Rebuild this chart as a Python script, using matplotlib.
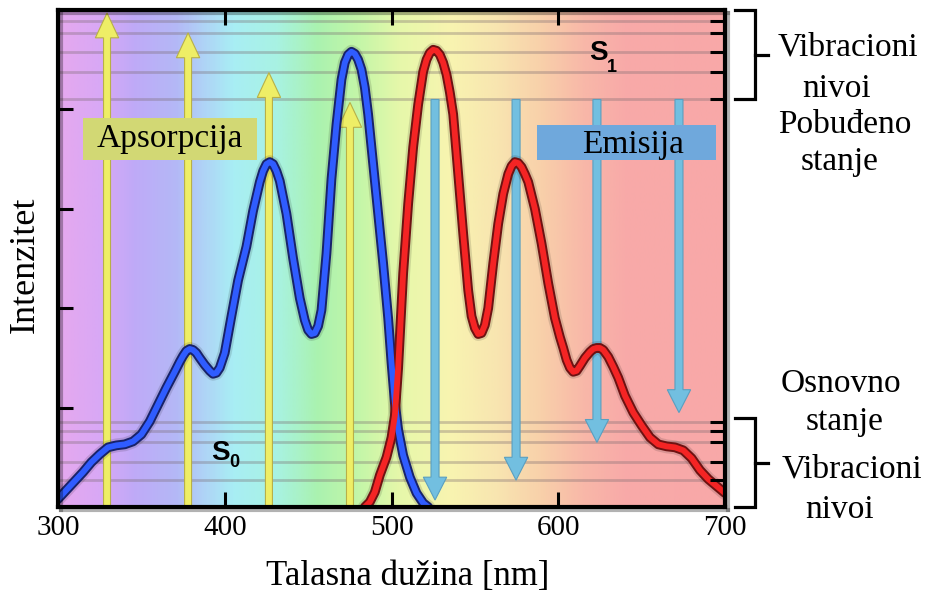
import numpy as np
import matplotlib.pyplot as plt
import matplotlib.patheffects as pe
from matplotlib.colors import LinearSegmentedColormap
from matplotlib.patches import FancyArrow, Rectangle
from matplotlib.transforms import blended_transform_factory

# absorption curve (blue), wavelength [nm] vs intensity
abs_nm = [300, 305, 310, 315, 320, 325, 330, 335, 340, 345, 350, 355, 360, 365, 370,
          373, 375, 377, 379, 381, 383, 385, 388, 391, 393, 395, 397, 400, 404, 408,
          413, 417, 421, 423, 425, 427, 429, 431, 433, 437, 441, 445, 448, 450, 452,
          454, 456, 458, 461, 464, 467, 470, 472, 474, 476, 478, 480, 482, 484, 486,
          489, 492, 495, 498, 500, 502, 504, 507, 511, 515, 519, 522]
abs_int = [0.08, 0.17, 0.26, 0.35, 0.45, 0.53, 0.60, 0.62, 0.63, 0.66, 0.73, 0.86, 1.03, 1.20, 1.36,
           1.46, 1.52, 1.57, 1.59, 1.58, 1.55, 1.50, 1.43, 1.37, 1.34, 1.35, 1.40, 1.55, 1.92, 2.28,
           2.62, 2.98, 3.27, 3.38, 3.45, 3.47, 3.45, 3.38, 3.28, 2.95, 2.50, 2.10, 1.88, 1.78, 1.74,
           1.75, 1.82, 1.98, 2.55, 3.30, 3.85, 4.30, 4.47, 4.55, 4.58, 4.56, 4.50, 4.40, 4.22, 3.95,
           3.45, 2.95, 2.45, 1.90, 1.45, 1.05, 0.78, 0.52, 0.30, 0.14, 0.04, 0.0]

# emission curve (red)
em_nm = [484, 487, 490, 493, 497, 500, 502, 504, 507, 510, 513, 516, 519, 521, 523,
         525, 527, 529, 531, 533, 535, 537, 540, 543, 546, 548, 550, 552, 554, 556,
         558, 561, 564, 567, 570, 572, 574, 576, 578, 580, 582, 586, 590, 594, 598,
         601, 603, 605, 607, 609, 611, 613, 616, 619, 621, 623, 625, 627, 630, 633,
         636, 640, 645, 650, 655, 660, 665, 670, 675, 680, 685, 690, 695, 700]
em_int = [0.0, 0.05, 0.15, 0.32, 0.50, 0.70, 0.92, 1.40, 2.35, 3.05, 3.62, 4.05, 4.38, 4.50, 4.57,
          4.60, 4.59, 4.55, 4.47, 4.35, 4.17, 3.95, 3.35, 2.75, 2.18, 1.92, 1.80, 1.74, 1.75, 1.83,
          2.00, 2.45, 2.85, 3.15, 3.35, 3.43, 3.47, 3.46, 3.42, 3.35, 3.27, 3.00, 2.65, 2.25, 1.90,
          1.71, 1.60, 1.48, 1.40, 1.36, 1.37, 1.42, 1.50, 1.56, 1.59, 1.60, 1.60, 1.58, 1.51, 1.41,
          1.30, 1.12, 0.95, 0.82, 0.70, 0.63, 0.61, 0.60, 0.57, 0.49, 0.37, 0.28, 0.21, 0.14]

# vibrational levels
s1_levels = [4.89, 4.77, 4.58, 4.38, 4.10]
s0_levels = [0.86, 0.76, 0.65, 0.45, 0.27]

# transition arrows
abs_arrow_nm = [329.4, 378.0, 426.5, 475.1]
abs_arrow_top = [4.97, 4.77, 4.37, 4.07]
em_arrow_nm = [526.1, 574.7, 623.2, 672.4]
em_arrow_bottom = [0.07, 0.27, 0.65, 0.95]
em_arrow_start = 4.10

xticks = [300, 400, 500, 600, 700]
yticks = [1, 2, 3, 4]

# background spectrum colours
bg_nm = [300, 325, 345, 370, 390, 405, 430, 455, 480, 505, 535, 565, 590, 615, 640, 700]
bg_colors = ['#e6a8ee', '#d8a8f6', '#bfaaf8', '#b4b8f6', '#aed8f6', '#a8eef4', '#a8f2e4',
             '#aaf2b0', '#c4f6a8', '#e6f8aa', '#f8f4b0', '#f8e4b0', '#f8d0aa', '#f8b8a8',
             '#f8aaa8', '#f8a8a8']

serif = 'Liberation Serif'
sans = 'Liberation Sans'


def draw_background(ax):
    stops = [((n - 300) / 400, c) for n, c in zip(bg_nm, bg_colors)]
    cmap = LinearSegmentedColormap.from_list('spectrum', stops)
    grad = np.linspace(0, 1, 800)[None, :]
    ax.imshow(grad, cmap=cmap, aspect='auto', extent=(300, 700, 0, 5),
              origin='lower', zorder=0, interpolation='bilinear')


def draw_levels(ax):
    for lv in s1_levels + s0_levels:
        ax.axhline(lv, color='#7a6a70', lw=2.0, alpha=0.35, zorder=1)


def draw_arrows(ax):
    for x, top in zip(abs_arrow_nm, abs_arrow_top):
        ax.add_patch(FancyArrow(x, 0, 0, top, width=4.2, head_width=14,
                                head_length=0.25, length_includes_head=True,
                                facecolor='#eeee66', edgecolor='#b8b048', lw=0.8, zorder=2))
    for x, bot in zip(em_arrow_nm, em_arrow_bottom):
        ax.add_patch(FancyArrow(x, em_arrow_start, 0, bot - em_arrow_start, width=4.8,
                                head_width=14, head_length=0.23, length_includes_head=True,
                                facecolor='#72bfe0', edgecolor='#5a9fc0', lw=0.8, zorder=2))


def draw_curve(ax, x, y, edge, core):
    kw = dict(solid_joinstyle='round', solid_capstyle='round')
    ax.plot(x, y, color='k', lw=10, alpha=0.12, zorder=3, **kw)
    ax.plot(x, y, color=edge, lw=7, zorder=4, **kw)
    ax.plot(x, y, color=core, lw=4.2, zorder=5, **kw)


def draw_labels(ax, fig):
    # boxes
    ax.add_patch(Rectangle((0.0375, 0.698), 0.261, 0.0845, transform=ax.transAxes,
                           facecolor='#d2d874', edgecolor='none', zorder=6))
    ax.text(0.168, 0.724, 'Apsorpcija', transform=ax.transAxes, ha='center', va='baseline',
            fontsize=24, family=serif, zorder=7)
    ax.add_patch(Rectangle((0.718, 0.698), 0.268, 0.0704, transform=ax.transAxes,
                           facecolor='#6fa8dc', edgecolor='none', zorder=6))
    ax.text(0.862, 0.712, 'Emisija', transform=ax.transAxes, ha='center', va='baseline',
            fontsize=24, family=serif, zorder=7)

    # state labels
    ax.text(0.811, 0.913, 'S', transform=ax.transAxes, ha='center', va='center',
            fontsize=20, family=sans, weight='bold', zorder=7)
    ax.text(0.831, 0.884, '1', transform=ax.transAxes, ha='center', va='center',
            fontsize=13, family=sans, weight='bold', zorder=7)
    ax.text(0.244, 0.109, 'S', transform=ax.transAxes, ha='center', va='center',
            fontsize=20, family=sans, weight='bold', zorder=7)
    ax.text(0.264, 0.090, '0', transform=ax.transAxes, ha='center', va='center',
            fontsize=13, family=sans, weight='bold', zorder=7)

    # brackets on the right
    tr = blended_transform_factory(ax.transAxes, ax.transData)
    for top, bot, mid in [(5.0, s1_levels[-1], 4.55), (s0_levels[0] + 0.04, 0.0, 0.44)]:
        ax.plot([1.015, 1.045, 1.045, 1.015], [top, top, bot, bot], color='k', lw=2.3,
                transform=tr, clip_on=False, solid_joinstyle='miter')
        ax.plot([1.045, 1.064], [mid, mid], color='k', lw=2.3, transform=tr, clip_on=False)

    W, H = 931, 593
    right_text = [('Vibracioni', 848, 55), ('nivoi', 837, 97), ('Pobuđeno', 845, 133),
                  ('stanje', 840, 170), ('Osnovno', 841, 392), ('stanje', 845, 430),
                  ('Vibracioni', 852, 477), ('nivoi', 840, 518)]
    for s, px, py in right_text:
        fig.text(px / W, 1 - py / H, s, ha='center', va='baseline', fontsize=24, family=serif)

    fig.text(408 / W, 1 - 585 / H, 'Talasna dužina [nm]', ha='center', va='baseline',
             fontsize=25, family=serif)
    fig.text(25 / W, 1 - 265 / H, 'Intenzitet', ha='center', va='center', rotation=90,
             fontsize=26, family=serif)


def main():
    fig = plt.figure(figsize=(9.31, 5.93), dpi=100)
    ax = fig.add_axes([58 / 931, 86 / 593, 667 / 931, 497 / 593])

    draw_background(ax)
    draw_levels(ax)
    draw_arrows(ax)
    draw_curve(ax, abs_nm, abs_int, '#18226a', '#2f5cff')
    draw_curve(ax, em_nm, em_int, '#6e1212', '#f42424')

    ax.set_xlim(300, 700)
    ax.set_ylim(0, 5)
    ax.set_xticks(xticks)
    ax.set_xticklabels([str(t) for t in xticks], family=serif, fontsize=21)
    ax.set_yticks(yticks)
    ax.set_yticklabels([])
    ax.tick_params(axis='both', direction='in', length=11, width=2.2, top=True, pad=6)
    shadow = [pe.SimpleLineShadow(offset=(2, -2), shadow_color='k', alpha=0.3), pe.Normal()]
    for sp in ax.spines.values():
        sp.set_linewidth(3)
        sp.set_zorder(8)
        sp.set_path_effects(shadow)

    # right-hand ticks mark the vibrational levels
    ax2 = ax.twinx()
    ax2.set_ylim(0, 5)
    ax2.set_yticks(s1_levels + s0_levels)
    ax2.set_yticklabels([])
    ax2.tick_params(axis='y', direction='in', length=11, width=2.2)
    for sp in ax2.spines.values():
        sp.set_visible(False)

    draw_labels(ax, fig)

    fig.savefig('out.png', dpi=100)


if __name__ == "__main__":
    main()
